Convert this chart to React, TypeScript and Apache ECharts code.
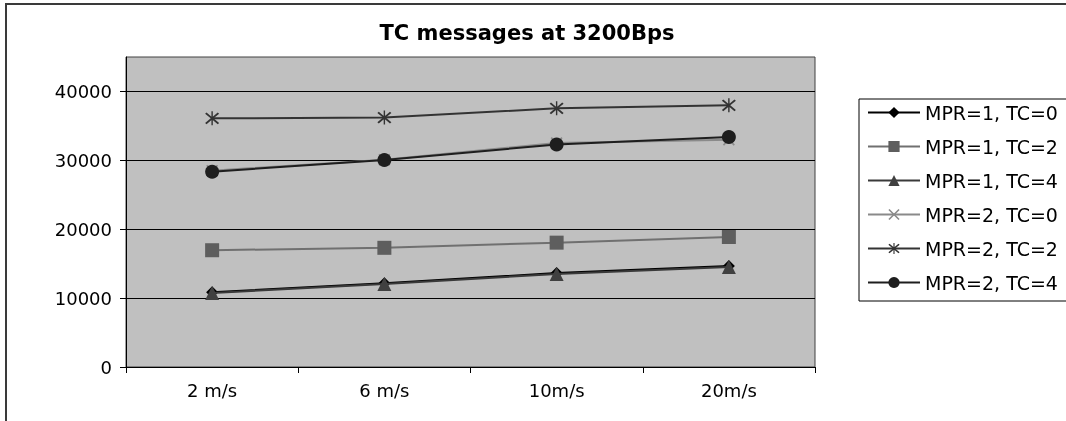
import React, { useEffect, useRef } from "react";
import * as echarts from "echarts";

const categories = ["2 m/s", "6 m/s", "10m/s", "20m/s"];
const seriesNames = [
  "MPR=1, TC=0",
  "MPR=1, TC=2",
  "MPR=1, TC=4",
  "MPR=2, TC=0",
  "MPR=2, TC=2",
  "MPR=2, TC=4",
];
const mpr1tc0 = [10850, 12150, 13650, 14650];
const mpr1tc2 = [16950, 17300, 18050, 18870];
const mpr1tc4 = [10740, 12050, 13500, 14500];
const mpr2tc0 = [28500, 30100, 32500, 33000];
const mpr2tc2 = [36100, 36200, 37550, 37980];
const mpr2tc4 = [28350, 30050, 32300, 33380];
const yTicks = [0, 10000, 20000, 30000, 40000];

const X_PATH =
  "path://M2 0 L10 8 L18 0 L20 2 L12 10 L20 18 L18 20 L10 12 L2 20 L0 18 L8 10 L0 2 Z";
const STAR_PATH =
  "path://M2 0 L10 8 L18 0 L20 2 L12 10 L20 18 L18 20 L10 12 L2 20 L0 18 L8 10 L0 2 Z M9 -2 L11 -2 L11 22 L9 22 Z";

const FONT = "'DejaVu Sans', sans-serif";

export default function App() {
  const ref = useRef<HTMLDivElement>(null);
  useEffect(() => {
    if (!ref.current) return;
    const chart = echarts.init(ref.current, null, { renderer: "svg" });
    const data = [mpr1tc0, mpr1tc2, mpr1tc4, mpr2tc0, mpr2tc2, mpr2tc4];
    const styles = [
      { symbol: "diamond", size: 12, line: "#000000", fill: "#000000" },
      { symbol: "rect", size: 14, line: "#707070", fill: "#5e5e5e" },
      { symbol: "triangle", size: 14, line: "#3a3a3a", fill: "#404040" },
      { symbol: X_PATH, size: 12, line: "#8a8a8a", fill: "#8a8a8a" },
      { symbol: STAR_PATH, size: 14, line: "#333333", fill: "#333333" },
      { symbol: "circle", size: 14, line: "#1e1e1e", fill: "#1e1e1e" },
    ];
    chart.setOption({
      animation: false,
      textStyle: { fontFamily: FONT },
      graphic: [
        {
          type: "rect",
          shape: { x: 6, y: 4, width: 1100, height: 460 },
          style: { fill: "none", stroke: "#3a3a3a", lineWidth: 2 },
          z: -10,
        },
        {
          type: "text",
          x: 527,
          y: 33,
          style: {
            text: "TC messages at 3200Bps",
            font: "bold 21px 'DejaVu Sans', sans-serif",
            fill: "#000",
            textAlign: "center",
            textVerticalAlign: "middle",
          },
        },
      ],
      legend: {
        orient: "vertical",
        left: 859,
        top: 99,
        padding: [4, 10, 9, 8],
        itemGap: 15,
        itemWidth: 52,
        itemHeight: 14,
        backgroundColor: "#ffffff",
        borderColor: "#000000",
        borderWidth: 1,
        textStyle: { fontSize: 19, color: "#000", fontFamily: FONT },
        data: seriesNames,
      },
      grid: {
        left: 126,
        right: 251,
        top: 57,
        bottom: 54,
        show: true,
        backgroundColor: "#c0c0c0",
        borderColor: "#404040",
        borderWidth: 1,
      },
      xAxis: {
        type: "category",
        data: categories,
        boundaryGap: true,
        axisLine: { lineStyle: { color: "#000", width: 1 } },
        axisTick: { show: true, length: 6, lineStyle: { color: "#000" } },
        axisLabel: { fontSize: 18, color: "#000", margin: 14, fontFamily: FONT },
        splitLine: { show: false },
      },
      yAxis: {
        type: "value",
        min: 0,
        max: 45000,
        interval: 10000,
        axisLine: { show: true, lineStyle: { color: "#000", width: 1 } },
        axisTick: {
          show: true,
          length: 6,
          lineStyle: { color: "#000" },
          customValues: yTicks,
        },
        axisLabel: {
          fontSize: 18,
          color: "#000",
          margin: 14,
          fontFamily: FONT,
          showMaxLabel: false,
          formatter: (v: number) => String(v),
        },
        splitLine: { show: true, lineStyle: { color: "#000", width: 1 } },
      },
      series: seriesNames.map((name, i) => ({
        name,
        type: "line",
        data: data[i],
        symbol: styles[i].symbol,
        symbolSize: styles[i].size,
        lineStyle: { color: styles[i].line, width: 2 },
        itemStyle: { color: styles[i].fill, borderWidth: 0 },
        z: 2 + i,
      })),
    });
    return () => chart.dispose();
  }, []);
  return (
    <div
      ref={ref}
      style={{ position: "fixed", left: 0, top: 0, width: 1066, height: 421 }}
    />
  );
}
